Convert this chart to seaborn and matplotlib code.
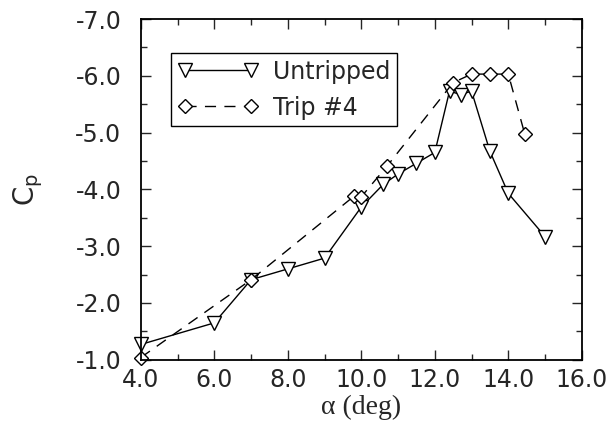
import matplotlib
matplotlib.use("Agg")
import matplotlib.pyplot as plt
import seaborn as sns
import pandas as pd
from matplotlib.ticker import MultipleLocator

untripped_alpha = [4.0, 6.0, 7.0, 8.0, 9.0, 10.0, 10.6, 11.0, 11.5, 12.0, 12.4, 12.7, 13.0, 13.5, 14.0, 15.0]
untripped_cp = [-1.27, -1.65, -2.41, -2.60, -2.79, -3.69, -4.09, -4.27, -4.46, -4.65, -5.73, -5.67, -5.73, -4.67, -3.93, -3.17]

trip_alpha = [4.0, 7.0, 9.8, 10.0, 10.7, 12.5, 13.0, 13.5, 14.0, 14.45]
trip_cp = [-1.04, -2.41, -3.88, -3.87, -4.41, -5.88, -6.03, -6.03, -6.03, -4.97]

x_ticks = [4.0, 6.0, 8.0, 10.0, 12.0, 14.0, 16.0]
y_ticks = [-1.0, -2.0, -3.0, -4.0, -5.0, -6.0, -7.0]

sns.set_style("ticks")
plt.rcParams['font.family'] = ['DejaVu Sans']
plt.rcParams['mathtext.fontset'] = 'dejavusans'

fig = plt.figure(figsize=(6.15, 4.42), dpi=100)
ax = fig.add_axes([0.229, 0.186, 0.717, 0.771])

df_u = pd.DataFrame({"alpha": untripped_alpha, "cp": untripped_cp})
df_t = pd.DataFrame({"alpha": trip_alpha, "cp": trip_cp})

sns.lineplot(data=df_u, x="alpha", y="cp", ax=ax, sort=False, color="black", lw=1.0,
             marker="v", markersize=10, markerfacecolor="white", markeredgecolor="black",
             markeredgewidth=1.0, label="Untripped", clip_on=False)
sns.lineplot(data=df_t, x="alpha", y="cp", ax=ax, sort=False, color="black", lw=1.0,
             marker="D", markersize=7, markerfacecolor="white", markeredgecolor="black",
             markeredgewidth=1.0, label="Trip #4", clip_on=False)
ax.lines[-1].set_dashes((8, 6))

ax.set_xlim(4.0, 16.0)
ax.set_ylim(-1.0, -7.0)
ax.set_xticks(x_ticks)
ax.set_yticks(y_ticks)
ax.set_xticklabels([f"{v:.1f}" for v in x_ticks])
ax.set_yticklabels([f"{v:.1f}" for v in y_ticks])
ax.xaxis.set_minor_locator(MultipleLocator(1.0))
ax.yaxis.set_minor_locator(MultipleLocator(0.5))
ax.tick_params(which="both", direction="in", top=True, right=True, width=1.0)
ax.tick_params(which="major", length=7, labelsize=17)
ax.tick_params(axis="y", which="major", pad=14)
ax.tick_params(axis="x", which="major", pad=6)
ax.tick_params(which="minor", length=4)
for s in ax.spines.values():
    s.set_linewidth(1.3)
    s.set_color("black")

ax.set_xlabel("α (deg)", fontsize=20, family=["Liberation Serif", "DejaVu Serif"], labelpad=2)
ax.set_ylabel("C$_\\mathrm{p}$", fontsize=20, labelpad=22)

leg = ax.legend(loc="upper left", bbox_to_anchor=(0.068, 0.9), fontsize=17, frameon=True,
                fancybox=False, edgecolor="black", framealpha=1, handlelength=3.4,
                handletextpad=0.65, borderpad=0.28, labelspacing=0.5, numpoints=2,
                borderaxespad=0)
leg.get_frame().set_linewidth(1.0)

fig.savefig("out.png", dpi=100)
